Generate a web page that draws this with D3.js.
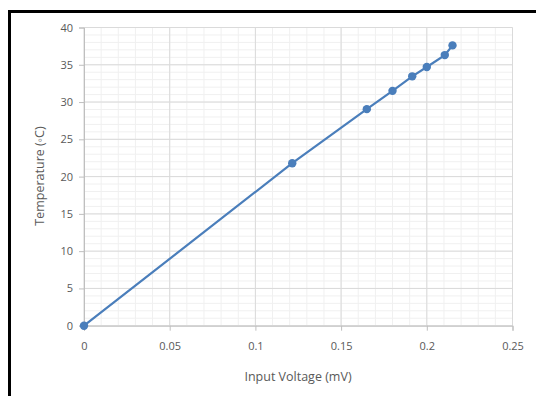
<!DOCTYPE html>
<html>
<head>
<meta charset="utf-8">
<script src="https://cdn.jsdelivr.net/npm/d3@7"></script>
<style>
  body { margin: 0; background: #fff; }
  text { font-family: "Open Sans", "Noto Sans", sans-serif; fill: #595959; }
</style>
</head>
<body>
<svg id="chart" width="536" height="396"></svg>
<script>
  const voltage = [0, 0.1215, 0.165, 0.18, 0.1915, 0.2, 0.2105, 0.215];
  const temperature = [0, 21.8, 29.05, 31.5, 33.45, 34.7, 36.3, 37.6];
  const xTicks = [0, 0.05, 0.1, 0.15, 0.2, 0.25];
  const yTicks = [0, 5, 10, 15, 20, 25, 30, 35, 40];
  const xTitle = 'Input Voltage (mV)';
  const yTitle = 'Temperature (\u25E6C)';

  const svg = d3.select('#chart');
  const margin = {top: 27.5, left: 84, right: 24, bottom: 70};
  const width = 512.5 - margin.left;
  const height = 325.7 - margin.top;

  const x = d3.scaleLinear().domain([0, 0.25]).range([0, width]);
  const y = d3.scaleLinear().domain([0, 40]).range([height, 0]);

  // frame (top + left only, as in the screenshot)
  svg.append('path')
    .attr('d', 'M9.5,396 V11.5 H536')
    .attr('fill', 'none').attr('stroke', '#000').attr('stroke-width', 3);

  const g = svg.append('g').attr('transform', `translate(${margin.left},${margin.top})`);

  // minor grid
  const xMinor = d3.range(0, 0.2501, 0.01);
  const yMinor = d3.range(0, 40.01, 1);
  g.append('g').selectAll('line').data(xMinor).join('line')
    .attr('x1', d => x(d)).attr('x2', d => x(d)).attr('y1', 0).attr('y2', height)
    .attr('stroke', '#f0f0f0');
  g.append('g').selectAll('line').data(yMinor).join('line')
    .attr('y1', d => y(d)).attr('y2', d => y(d)).attr('x1', 0).attr('x2', width)
    .attr('stroke', '#f0f0f0');

  // major grid
  g.append('g').selectAll('line').data(xTicks).join('line')
    .attr('x1', d => x(d)).attr('x2', d => x(d)).attr('y1', 0).attr('y2', height)
    .attr('stroke', '#dadada');
  g.append('g').selectAll('line').data(yTicks).join('line')
    .attr('y1', d => y(d)).attr('y2', d => y(d)).attr('x1', 0).attr('x2', width)
    .attr('stroke', '#dadada');

  // axes
  const xAxis = g.append('g').attr('transform', `translate(0,${height})`)
    .call(d3.axisBottom(x).tickValues(xTicks).tickFormat(d3.format('')).tickSize(5).tickPadding(12));
  const yAxis = g.append('g')
    .call(d3.axisLeft(y).tickValues(yTicks).tickSize(5).tickPadding(6));
  [xAxis, yAxis].forEach(a => {
    a.select('.domain').attr('stroke', '#bfbfbf');
    a.selectAll('.tick line').attr('stroke', '#bfbfbf');
    a.selectAll('.tick text').attr('fill', '#595959').style('font-size', '11px')
      .style('font-family', '"Open Sans", "Noto Sans", sans-serif');
  });

  const pts = voltage.map((v, i) => [v, temperature[i]]);
  g.append('path').datum(pts)
    .attr('d', d3.line().x(d => x(d[0])).y(d => y(d[1])))
    .attr('fill', 'none').attr('stroke', '#4a7ebb').attr('stroke-width', 2.2);
  g.append('g').selectAll('circle').data(pts).join('circle')
    .attr('cx', d => x(d[0])).attr('cy', d => y(d[1])).attr('r', 4.2)
    .attr('fill', '#4a7ebb');

  // titles
  svg.append('text').attr('x', 298).attr('y', 381).attr('text-anchor', 'middle')
    .style('font-size', '12.5px').text(xTitle);
  svg.append('text').attr('transform', 'translate(44,176) rotate(-90)')
    .attr('text-anchor', 'middle').style('font-size', '12.5px').text(yTitle);
</script>
</body>
</html>
